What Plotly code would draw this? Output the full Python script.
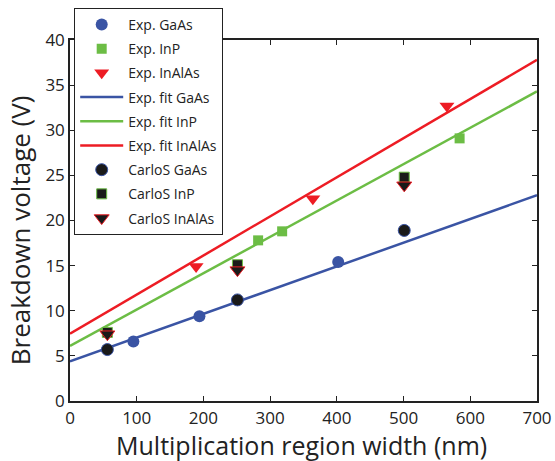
import plotly.graph_objects as go

# Measured breakdown voltages (V) vs multiplication region width (nm)
exp_gaas_x = [95, 194, 402]
exp_gaas_y = [6.6, 9.4, 15.4]
exp_inp_x = [282, 318, 584]
exp_inp_y = [17.8, 18.8, 29.1]
exp_inalas_x = [189, 364, 565]
exp_inalas_y = [14.9, 22.4, 32.7]

# Linear fits to the experimental data, evaluated at the axis ends
fit_x = [0, 700]
fit_gaas_y = [4.4, 22.8]
fit_inp_y = [6.1, 34.3]
fit_inalas_y = [7.45, 37.8]

# CarloS simulation results
sim_x = [56, 251, 501]
sim_gaas_y = [5.7, 11.2, 18.9]
sim_inp_y = [7.6, 15.1, 24.8]
sim_inalas_y = [7.4, 14.5, 23.9]

BLUE = "#3a54a4"
GREEN = "#6cbd45"
RED = "#ed1c24"
FONT = "Open Sans"
INK = "#222"

fig = go.Figure()

# fit lines (drawn first so markers sit on top)
for name, ys, col, rank in [("Exp. fit GaAs", fit_gaas_y, BLUE, 4),
                            ("Exp. fit InP", fit_inp_y, GREEN, 5),
                            ("Exp. fit InAlAs", fit_inalas_y, RED, 6)]:
    fig.add_trace(go.Scatter(x=fit_x, y=ys, mode="lines", name=name,
                             line=dict(color=col, width=2.5),
                             legendrank=rank, legendgroup=name))

# experimental points
fig.add_trace(go.Scatter(x=exp_gaas_x, y=exp_gaas_y, mode="markers", name="Exp. GaAs",
                         marker=dict(symbol="circle", size=12, color=BLUE),
                         legendrank=1, legendgroup="a"))
fig.add_trace(go.Scatter(x=exp_inp_x, y=exp_inp_y, mode="markers", name="Exp. InP",
                         marker=dict(symbol="square", size=10, color=GREEN),
                         legendrank=2, legendgroup="b"))
fig.add_trace(go.Scatter(x=exp_inalas_x, y=exp_inalas_y, mode="markers", name="Exp. InAlAs",
                         marker=dict(symbol="triangle-down", size=13, color=RED),
                         legendrank=3, legendgroup="c"))

# simulated points
fig.add_trace(go.Scatter(x=sim_x, y=sim_gaas_y, mode="markers", name="CarloS GaAs",
                         marker=dict(symbol="circle", size=12, color="#1a1a1a",
                                     line=dict(color=BLUE, width=1)),
                         legendrank=7, legendgroup="d"))
fig.add_trace(go.Scatter(x=sim_x, y=sim_inp_y, mode="markers", name="CarloS InP",
                         marker=dict(symbol="square", size=10, color="#1a1a1a",
                                     line=dict(color=GREEN, width=1)),
                         legendrank=8, legendgroup="e"))
fig.add_trace(go.Scatter(x=sim_x, y=sim_inalas_y, mode="markers", name="CarloS InAlAs",
                         marker=dict(symbol="triangle-down", size=13, color="#1a1a1a",
                                     line=dict(color=RED, width=1)),
                         legendrank=9, legendgroup="f"))

axis_common = dict(showline=True, linecolor=INK, linewidth=1.5, mirror="ticks",
                   ticks="inside", ticklen=5, tickwidth=1, tickcolor=INK,
                   showgrid=False, zeroline=False, automargin=False,
                   tickfont=dict(family=FONT, size=17, color=INK))

fig.update_xaxes(range=[0, 700], dtick=100, ticklabelstandoff=1, **axis_common)
fig.update_yaxes(range=[0, 40], dtick=5, **axis_common)

# axis titles placed as paper-anchored annotations
fig.add_annotation(text="Multiplication region width (nm)", xref="paper", yref="paper",
                   x=0.496, y=-0.122, xanchor="center", yanchor="middle",
                   showarrow=False, font=dict(family=FONT, size=25, color=INK))
fig.add_annotation(text="Breakdown voltage (V)", xref="paper", yref="paper",
                   x=-0.107, y=0.473, xanchor="center", yanchor="middle", textangle=-90,
                   showarrow=False, font=dict(family=FONT, size=26, color=INK))

fig.update_layout(
    width=555, height=461,
    margin=dict(l=70, r=18, t=40, b=60, autoexpand=False),
    plot_bgcolor="white", paper_bgcolor="white",
    font=dict(family=FONT, color=INK),
    legend=dict(x=0.009, y=1.089, xanchor="left", yanchor="top",
                bgcolor="white", bordercolor=INK, borderwidth=1,
                font=dict(family=FONT, size=14, color=INK),
                tracegroupgap=3, itemwidth=43, entrywidth=100, maxheight=1000),
)

fig.write_html("out.html")
